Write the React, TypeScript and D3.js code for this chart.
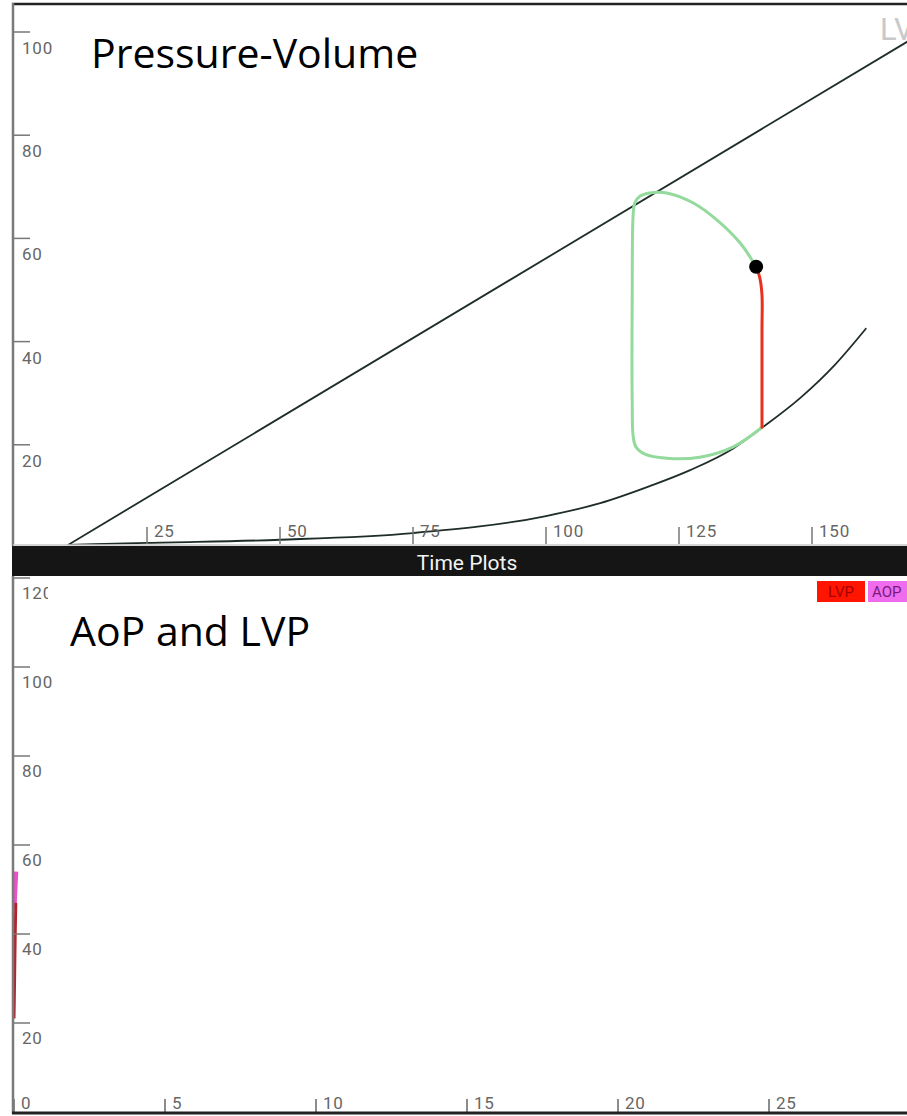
import * as d3 from 'd3';

// ---- Pressure-Volume panel data (volume in mL, pressure in mmHg) ----
const espvrVolume = [10, 175];
const espvrPressure = [0.5, 102.5];

const edpvrVolume = [10.2, 25, 50, 75, 100, 110.2, 119.5, 127.1, 135.2, 140.6, 147.7, 154.3, 160.2];
const edpvrPressure = [0.6, 1.0, 1.6, 2.9, 6.2, 8.7, 12.0, 15.1, 19.3, 23.3, 29.0, 35.5, 42.6];

// older part of the loop (green): from current point, ejection, relaxation, filling
const loopVolume = [139.5, 136.5, 132.1, 127.6, 122.7, 119.5, 117.7, 116.7, 116.4, 116.2, 116.2, 116.4, 116.9, 118.6, 122.7, 128.9, 135.2, 140.6];
const loopPressure = [54.5, 59.1, 63.6, 66.9, 68.8, 68.8, 68.2, 66.9, 64.9, 48.1, 28.7, 21.5, 19.6, 18.2, 17.4, 17.6, 19.6, 23.4];

// current beat (red): isovolumic contraction up to the current point
const currentVolume = [140.6, 140.6, 140.6, 140.2, 139.5];
const currentPressure = [23.4, 42.2, 49.0, 52.3, 54.5];

const currentPoint = { volume: 139.5, pressure: 54.5 };

const pvXTicks = [25, 50, 75, 100, 125, 150];
const pvYTicks = [20, 40, 60, 80, 100];

// ---- Time plot data (seconds, mmHg) ----
const lvpTime = [0, 0.02, 0.04, 0.06];
const lvpValues = [21, 30, 40, 47];
const aopTime = [0, 0.02, 0.04, 0.06];
const aopValues = [45.5, 48.5, 51.5, 54];

const timeXTicks = [0, 5, 10, 15, 20, 25];
const timeYTicks = [20, 40, 60, 80, 100, 120];

const W = 907;
const H = 1116;
const tickFont = 'Roboto, "Liberation Sans", sans-serif';
const titleFont = '"Open Sans", "Noto Sans", sans-serif';

export default function App() {
  const xPV = d3.scaleLinear().domain([0, 170]).range([14, 14 + 170 * 5.32]);
  const yPV = d3.scaleLinear().domain([0, 100]).range([548, 32]);

  const xT = d3.scaleLinear().domain([0, 30]).range([14, 14 + 30 * 30.2]);
  const yT = d3.scaleLinear().domain([0, 120]).range([1112, 578]);

  const pvLine = d3.line<[number, number]>()
    .x(d => xPV(d[0]))
    .y(d => yPV(d[1]))
    .curve(d3.curveCatmullRom.alpha(0.5));

  const pvMono = d3.line<[number, number]>()
    .x(d => xPV(d[0]))
    .y(d => yPV(d[1]))
    .curve(d3.curveMonotoneX);

  const pvStraight = d3.line<[number, number]>()
    .x(d => xPV(d[0]))
    .y(d => yPV(d[1]));

  const tLine = d3.line<[number, number]>()
    .x(d => xT(d[0]))
    .y(d => yT(d[1]));

  const zip = (a: number[], b: number[]) => a.map((v, i) => [v, b[i]] as [number, number]);

  return (
    <div style={{ position: 'absolute', left: 0, top: 0, width: W, height: H, overflow: 'hidden', background: '#fff' }}>
      <svg width={W} height={H} style={{ display: 'block' }}>
        <defs>
          <clipPath id="pv-clip">
            <rect x={14} y={5} width={W - 14} height={540} />
          </clipPath>
          <clipPath id="t-clip">
            <rect x={14} y={577} width={W - 14} height={535} />
          </clipPath>
          <clipPath id="lbl-clip">
            <rect x={0} y={570} width={48} height={40} />
          </clipPath>
        </defs>

        {/* ---------- top panel ---------- */}
        <text x={880} y={40} fontFamily={tickFont} fontSize={31} fill="#c9c9c9">LV</text>

        <g clipPath="url(#pv-clip)">
          <path d={pvStraight(zip(espvrVolume, espvrPressure)) || ''} fill="none" stroke="#1f2d27" strokeWidth={1.8} />
          <path d={pvMono(zip(edpvrVolume, edpvrPressure)) || ''} fill="none" stroke="#1f2d27" strokeWidth={1.8} />
          <path d={pvLine(zip(loopVolume, loopPressure)) || ''} fill="none" stroke="#93da9c" strokeWidth={3} strokeLinecap="round" />
          <path d={pvLine(zip(currentVolume, currentPressure)) || ''} fill="none" stroke="#e8311c" strokeWidth={3} strokeLinecap="round" />
          <circle cx={xPV(currentPoint.volume)} cy={yPV(currentPoint.pressure)} r={7} fill="#000" />
        </g>

        {pvYTicks.map(v => (
          <g key={`py${v}`}>
            <line x1={13} x2={30} y1={yPV(v)} y2={yPV(v)} stroke="#777" strokeWidth={1.5} />
            <text x={22} y={yPV(v) + 22} fontFamily={tickFont} fontSize={17} letterSpacing={0.8} fill="#666">{v}</text>
          </g>
        ))}
        {pvXTicks.map(v => (
          <g key={`px${v}`}>
            <line x1={xPV(v)} x2={xPV(v)} y1={527} y2={544} stroke="#777" strokeWidth={1.5} />
            <text x={xPV(v) + 7} y={537} fontFamily={tickFont} fontSize={17} letterSpacing={0.8} fill="#666">{v}</text>
          </g>
        ))}

        <text x={91} y={68} fontFamily={titleFont} fontSize={41} fill="#000">Pressure-Volume</text>

        {/* frame of top panel */}
        <line x1={12} x2={W} y1={4} y2={4} stroke="#222" strokeWidth={2.5} />
        <line x1={13} x2={13} y1={3} y2={546} stroke="#7a7a7a" strokeWidth={2.5} />
        <line x1={13} x2={W} y1={545} y2={545} stroke="#c8c8c8" strokeWidth={1.5} />

        {/* ---------- Time Plots band ---------- */}
        <rect x={12} y={546} width={W - 12} height={30} fill="#151515" />
        <text x={467} y={570} textAnchor="middle" fontFamily={tickFont} fontSize={21} fill="#f2f2f2">Time Plots</text>

        {/* ---------- bottom panel ---------- */}
        <g clipPath="url(#t-clip)">
          <path d={tLine(zip(aopTime, aopValues)) || ''} fill="none" stroke="#ee4fc8" strokeWidth={5} />
          <path d={tLine(zip(lvpTime, lvpValues)) || ''} fill="none" stroke="#b5222a" strokeWidth={3} />
        </g>

        {timeYTicks.map(v => (
          <g key={`ty${v}`}>
            <line x1={13} x2={30} y1={yT(v)} y2={yT(v)} stroke="#777" strokeWidth={1.5} />
            <text x={22} y={yT(v) + 21} fontFamily={tickFont} fontSize={17} letterSpacing={0.8} fill="#666"
              clipPath={v === 120 ? 'url(#lbl-clip)' : undefined}>{v}</text>
          </g>
        ))}
        {timeXTicks.map(v => (
          <g key={`tx${v}`}>
            <line x1={xT(v)} x2={xT(v)} y1={1099} y2={1112} stroke="#666" strokeWidth={1.5} />
            <text x={xT(v) + 7} y={1109} fontFamily={tickFont} fontSize={17} letterSpacing={0.8} fill="#666">{v}</text>
          </g>
        ))}

        <text x={70} y={646} fontFamily={titleFont} fontSize={41} fill="#000">AoP and LVP</text>

        {/* legend */}
        <rect x={817} y={581} width={48} height={21} fill="#ff1500" />
        <text x={841} y={597} textAnchor="middle" fontFamily={tickFont} fontSize={15} fill="#a80000">LVP</text>
        <rect x={868} y={581} width={60} height={21} fill="#ef6cef" />
        <text x={872} y={597} fontFamily={tickFont} fontSize={15} fill="#7a1a7a">AOP</text>

        {/* frame of bottom panel */}
        <line x1={13} x2={13} y1={576} y2={1114} stroke="#7a7a7a" strokeWidth={2.5} />
        <line x1={12} x2={W} y1={1113} y2={1113} stroke="#222" strokeWidth={3} />
      </svg>
    </div>
  );
}
